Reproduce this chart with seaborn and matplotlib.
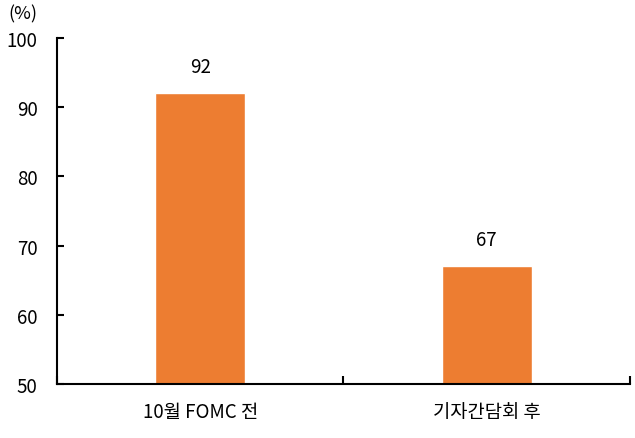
import numpy as np
import pandas as pd
import matplotlib
matplotlib.use("Agg")
import matplotlib.pyplot as plt
import seaborn as sns

sns.set_style("white", {"xtick.bottom": True, "ytick.left": True,
                        "text.color": "black", "xtick.color": "black",
                        "ytick.color": "black"})
plt.rcParams['font.family'] = ['Noto Sans CJK KR', 'DejaVu Sans']

categories = ["10월 FOMC 전", "기자간담회 후"]
values = [92, 67]
y_ticks = [50, 60, 70, 80, 90, 100]

df = pd.DataFrame({"cat": categories, "val": values})

fig = plt.figure(figsize=(6.35, 4.39), dpi=100)
ax = fig.add_axes([0.0898, 0.123, 0.9022, 0.788])

sns.barplot(data=df, x="cat", y="val", color="#ED7D31", saturation=1,
            width=0.315, ax=ax)

ax.set_ylim(50, 100)
ax.set_xlim(-0.5, len(categories) - 0.5)
ax.set_yticks(y_ticks)
ax.set_xlabel("")
ax.set_ylabel("")

# category boundary ticks
ax.set_xticks(np.arange(-0.5, len(categories), 1.0), minor=True)
ax.tick_params(axis="x", which="minor", bottom=True, direction="in", length=6,
               width=1.5, color="black")
ax.tick_params(axis="x", which="major", length=0, pad=12, labelsize=13.5,
               labelcolor="black")
ax.tick_params(axis="y", left=True, direction="in", length=5, width=1.5,
               color="black", pad=14, labelsize=13.5, labelcolor="black")

for side in ["top", "right"]:
    ax.spines[side].set_visible(False)
for side in ["left", "bottom"]:
    ax.spines[side].set_color("black")
    ax.spines[side].set_linewidth(1.5)

for i, v in enumerate(values):
    ax.annotate(f"{v}", xy=(i, v), xytext=(0, 12), textcoords="offset points",
                ha="center", va="bottom", fontsize=13.5, color="black")

fig.text(0.013, 0.968, "(%)", ha="left", va="center", fontsize=13, color="black")

fig.savefig("out.png", dpi=100)
